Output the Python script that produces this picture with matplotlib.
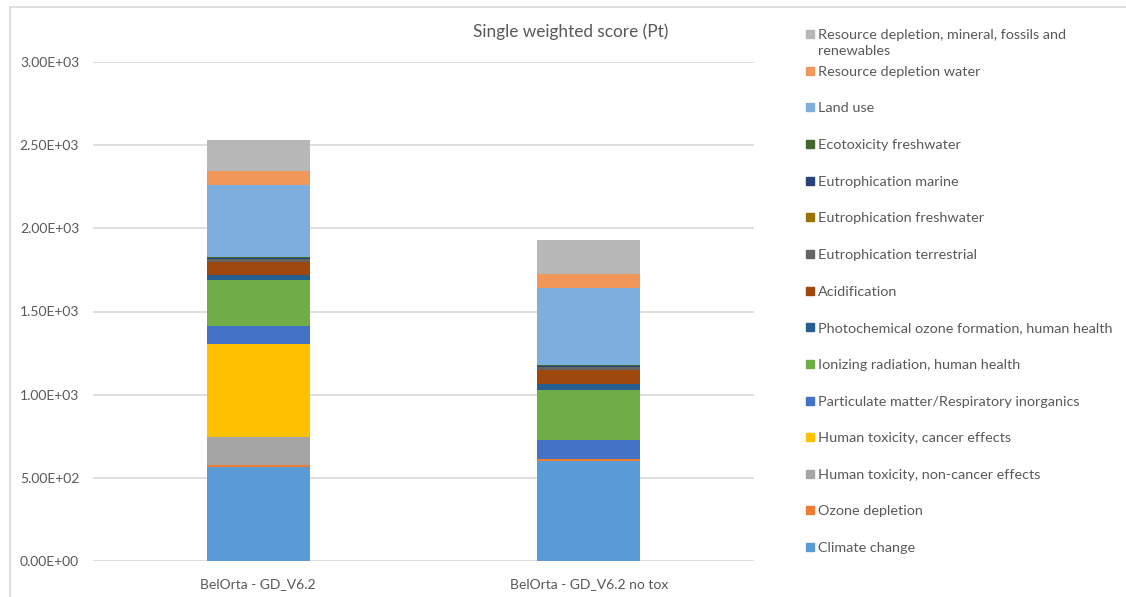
import matplotlib.pyplot as plt
from matplotlib.lines import Line2D
from matplotlib.patches import Rectangle
import numpy as np

plt.rcParams['font.family'] = ['Lato', 'DejaVu Sans']

scenarios = ["BelOrta - GD_V6.2", "BelOrta - GD_V6.2 no tox"]

# impact categories, bottom of the stack first
categories = [
    "Climate change",
    "Ozone depletion",
    "Human toxicity, non-cancer effects",
    "Human toxicity, cancer effects",
    "Particulate matter/Respiratory inorganics",
    "Ionizing radiation, human health",
    "Photochemical ozone formation, human health",
    "Acidification",
    "Eutrophication terrestrial",
    "Eutrophication freshwater",
    "Eutrophication marine",
    "Ecotoxicity freshwater",
    "Land use",
    "Resource depletion water",
    "Resource depletion, mineral, fossils and renewables",
]
colors = ["#5B9BD5", "#ED7D31", "#A5A5A5", "#FFC000", "#4472C4", "#70AD47",
          "#255E91", "#9E480E", "#636363", "#997300", "#264478", "#43682B",
          "#7CAFDD", "#F1975A", "#B7B7B7"]

# single weighted score per category (Pt)
score_base = [565, 12, 168, 559, 108, 277, 30, 80, 14, 5, 3, 6, 433, 82, 192]
score_notox = [601, 12, 0, 0, 117, 301, 32, 88, 14, 4, 5, 5, 461, 88, 204]

values = np.array([score_base, score_notox], dtype=float)

fig = plt.figure(figsize=(11.26, 5.97), dpi=100)
W, H = 1126, 597
ax = fig.add_axes([93 / W, 1 - 561 / H, (754 - 93) / W, (561 - 62) / H])

x = np.arange(len(scenarios))
bottom = np.zeros(len(scenarios))
for i, (name, col) in enumerate(zip(categories, colors)):
    ax.bar(x, values[:, i], width=0.313, bottom=bottom, color=col, label=name,
           zorder=3)
    bottom += values[:, i]

ax.set_xlim(-0.5, 1.5)
ax.set_ylim(0, 3000)
yt = np.arange(0, 3001, 500)
ax.set_yticks(yt)
ax.set_yticklabels([f"{v:.2E}" for v in yt])
ax.set_xticks(x)
ax.set_xticklabels(scenarios)
ax.grid(axis='y', color='#D9D9D9', linewidth=1.2, zorder=0)
for s in ax.spines.values():
    s.set_visible(False)
ax.tick_params(length=0, labelsize=10, colors='#595959')
ax.tick_params(axis='y', pad=10)
ax.tick_params(axis='x', pad=12)

fig.text(571 / W, 1 - 32 / H, "Single weighted score (Pt)", ha='center',
         va='center', fontsize=12.4, color='#595959')

# legend, top entry first
legend_labels = list(categories[::-1])
legend_labels[0] = "Resource depletion, mineral, fossils and\nrenewables"
for k, (lab, col) in enumerate(zip(legend_labels, colors[::-1])):
    yc = 34 + 36.65 * k
    fig.patches.append(Rectangle((806 / W, 1 - (yc + 4) / H), 8 / W, 8 / H,
                                 transform=fig.transFigure, color=col))
    fig.text(818 / W, 1 - (yc - 5) / H, lab, ha='left', va='top',
             fontsize=10.4, color='#595959', linespacing=1.4)

# chart frame
fig.add_artist(Line2D([10 / W, 1], [1 - 7 / H, 1 - 7 / H], color='#D9D9D9', lw=1.2))
fig.add_artist(Line2D([10 / W, 10 / W], [0, 1 - 7 / H], color='#D9D9D9', lw=1.2))

fig.savefig("out.png", dpi=100)
